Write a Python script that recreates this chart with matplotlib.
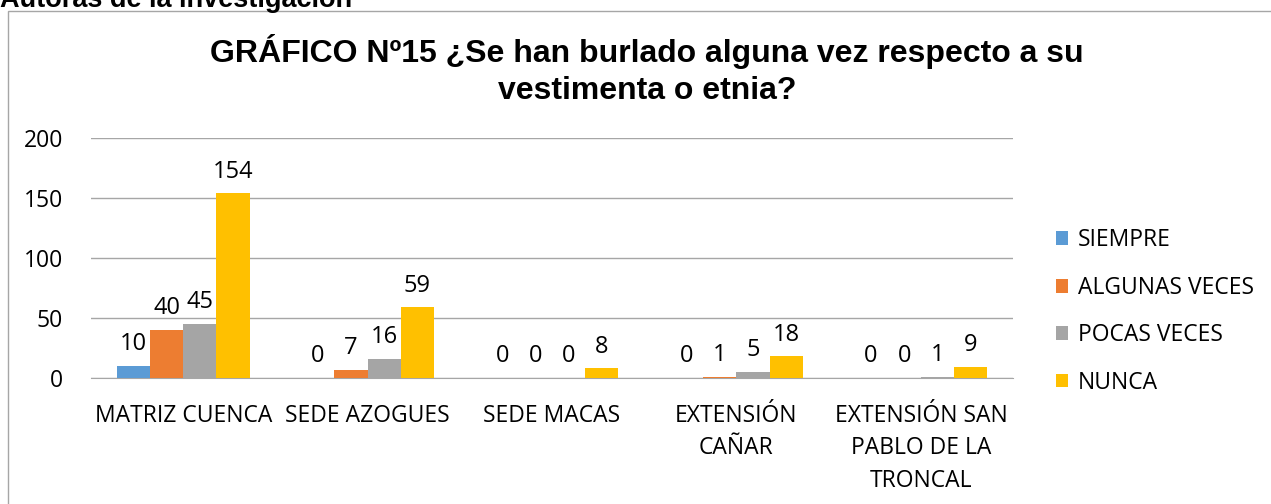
import numpy as np
import matplotlib.pyplot as plt
from matplotlib.patches import Rectangle

categories = ["MATRIZ CUENCA", "SEDE AZOGUES", "SEDE MACAS",
              "EXTENSIÓN\nCAÑAR", "EXTENSIÓN SAN\nPABLO DE LA\nTRONCAL"]
series_names = ["SIEMPRE", "ALGUNAS VECES", "POCAS VECES", "NUNCA"]
siempre = [10, 0, 0, 0, 0]
algunas = [40, 7, 0, 1, 0]
pocas = [45, 16, 0, 5, 1]
nunca = [154, 59, 8, 18, 9]
colors = ["#5B9BD5", "#ED7D31", "#A5A5A5", "#FFC000"]
yticks = [0, 50, 100, 150, 200]

fig = plt.figure(figsize=(12.71, 5.04), dpi=100)
ax = fig.add_axes([0.0716, 0.25, 0.7255, 0.476])

# outer chart frame
fig.patches.append(Rectangle((8 / 1271, -0.1), 1.2, 1.1 - 11 / 504,
                             transform=fig.transFigure, fill=False,
                             edgecolor="#A6A6A6", linewidth=1))

# caption above the frame, cut off by the top edge
fig.text(0.0, 1 - 7 / 504, "Autoras de la investigación", fontsize=19.5,
         fontweight="bold", family="Liberation Sans", va="baseline", ha="left")

x = np.arange(len(categories))
w = 0.18
all_series = [siempre, algunas, pocas, nunca]
for i, (vals, name, c) in enumerate(zip(all_series, series_names, colors)):
    pos = x + (i - 1.5) * w
    ax.bar(pos, vals, w, color=c, label=name, zorder=3)
    for p, v in zip(pos, vals):
        ax.annotate(str(v), (p, v), xytext=(0, 7), textcoords="offset points",
                    ha="center", va="bottom", fontsize=17, family="Open Sans")

ax.set_xlim(-0.5, len(categories) - 0.5)
ax.set_ylim(0, 200)
ax.set_yticks(yticks)
ax.set_yticklabels([str(t) for t in yticks], fontsize=16.5, family="Open Sans")
ax.set_xticks(x)
ax.set_xticklabels(categories, fontsize=16.5, family="Open Sans", linespacing=1.45, va="top")
ax.tick_params(axis="x", length=0, pad=19)
ax.tick_params(axis="y", length=0, pad=20)
ax.grid(axis="y", color="#A6A6A6", linewidth=1, zorder=0)
for s in ["top", "right", "left"]:
    ax.spines[s].set_visible(False)
ax.spines["bottom"].set_color("#A6A6A6")

fig.text(0.509, 0.861, "GRÁFICO Nº15 ¿Se han burlado alguna vez respecto a su\nvestimenta o etnia?",
         ha="center", va="center", fontsize=23, fontweight="bold",
         family="Liberation Sans", linespacing=1.3)

ax.legend(loc="center left", bbox_to_anchor=(1.024, 0.277), frameon=False,
          prop={"family": "Open Sans", "size": 16.5}, handlelength=0.55,
          handleheight=0.55, handletextpad=0.4, labelspacing=1.02)

fig.savefig("out.png", dpi=100)
